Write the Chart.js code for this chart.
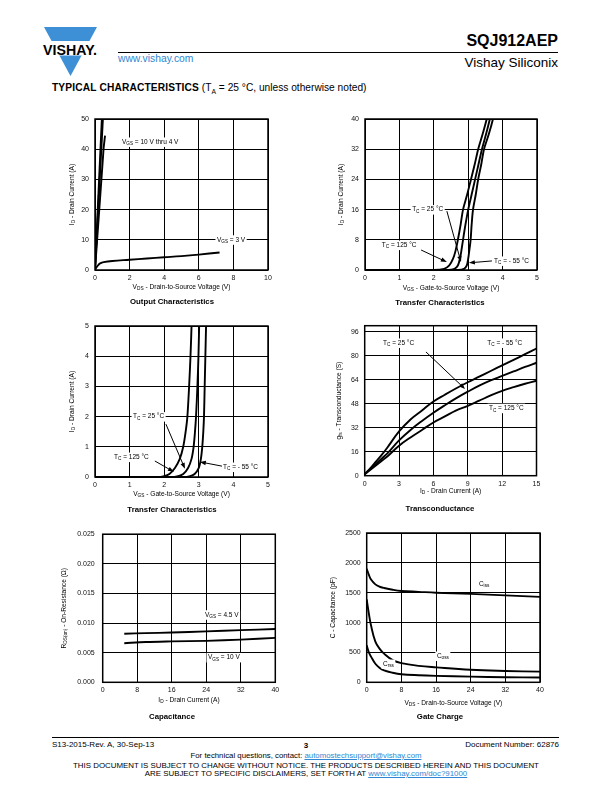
<!DOCTYPE html>
<html>
<head>
<meta charset="utf-8">
<script src="https://cdn.jsdelivr.net/npm/chart.js@4.4.0/dist/chart.umd.min.js"></script>
<style>
  body { margin: 0; width: 612px; height: 792px; position: relative; background: #fff; overflow: hidden;
         font-family: "Liberation Sans", Arial, sans-serif; color: #000; }
  .t { position: absolute; white-space: nowrap; line-height: 1; }
  .c { left: 0; width: 612px; text-align: center; }
  .blue { color: #2f86d2; }
  a { color: #2f86d2; }
  canvas { position: absolute; }
</style>
</head>
<body>
<svg style="position:absolute;left:0;top:0" width="120" height="80">
  <polygon points="44,27 97,27 70.5,76" fill="#3d8fd6"/>
  <rect x="40" y="41" width="60" height="14.5" fill="#fff"/>
  <text x="43" y="54.5" font-family="Liberation Sans, Arial" font-weight="bold" font-size="14" textLength="54" lengthAdjust="spacingAndGlyphs">VISHAY.</text>
</svg>
<div class="t" style="right:54px;top:33px;font-size:16px;font-weight:bold">SQJ912AEP</div>
<div style="position:absolute;left:118px;top:52px;width:440px;height:1px;background:#000"></div>
<div class="t blue" style="left:118px;top:54px;font-size:10.3px">www.vishay.com</div>
<div class="t" style="right:54px;top:56px;font-size:13.5px">Vishay Siliconix</div>
<div class="t" style="left:52px;top:83px;font-size:10.2px"><b style="letter-spacing:0.15px">TYPICAL CHARACTERISTICS</b> (T<sub style="font-size:6.8px">A</sub> = 25 °C, unless otherwise noted)</div>

<div style="position:absolute;left:52px;top:737px;width:507px;height:1px;background:#000"></div>
<div class="t" style="left:52px;top:740.5px;font-size:8px">S13-2015-Rev. A, 30-Sep-13</div>
<div class="t c" style="top:741.5px;font-size:8px;font-weight:bold">3</div>
<div class="t" style="right:53px;top:740.5px;font-size:8px">Document Number: 62876</div>
<div class="t c" style="top:752px;font-size:7.8px">For technical questions, contact: <a href="#">automostechsupport@vishay.com</a></div>
<div class="t c" style="top:761.5px;font-size:7.9px">THIS DOCUMENT IS SUBJECT TO CHANGE WITHOUT NOTICE. THE PRODUCTS DESCRIBED HEREIN AND THIS DOCUMENT</div>
<div class="t c" style="top:769.5px;font-size:7.9px">ARE SUBJECT TO SPECIFIC DISCLAIMERS, SET FORTH AT <a href="#">www.vishay.com/doc?91000</a></div>

<script>
// ---- output characteristics
const out10vX = [0, 0.40];
const out10vY = [0, 50.5];
const out6vX = [0, 0.46];
const out6vY = [0, 50.5];
const out4vX = [0, 0.5, 0.58];
const out4vY = [0, 40.5, 44.5];
const out3vX = [0, 0.1, 0.2, 0.3, 0.5, 1, 2, 3, 4, 5, 6, 7.2];
const out3vY = [0, 1.0, 1.7, 2.2, 2.6, 3.0, 3.4, 3.8, 4.2, 4.6, 5.1, 5.8];

// ---- transfer characteristics, 0 - 40 A
const trId = [0, 0, 0.3, 1.2, 3, 5, 8, 12, 16, 20, 24, 28, 32, 36, 40, 42];
const trVgs125 = [0, 2.0, 2.3, 2.45, 2.56, 2.63, 2.7, 2.78, 2.85, 2.97, 3.08, 3.19, 3.29, 3.42, 3.54, 3.6];
const trVgs25 = [0, 2.4, 2.6, 2.7, 2.76, 2.8, 2.85, 2.92, 3.0, 3.1, 3.2, 3.3, 3.4, 3.52, 3.63, 3.68];
const trVgsM55 = [0, 2.7, 2.88, 2.96, 3.0, 3.03, 3.07, 3.1, 3.14, 3.22, 3.29, 3.38, 3.46, 3.6, 3.72, 3.76];

// ---- transfer characteristics, 0 - 5 A
const lowId = [0, 0, 0.03, 0.1, 0.3, 0.6, 1, 1.5, 2, 3, 4, 5, 5.5];
const lowVgs125 = [0, 1.8, 2.0, 2.15, 2.31, 2.45, 2.55, 2.62, 2.67, 2.72, 2.76, 2.79, 2.80];
const lowVgs25 = [0, 2.2, 2.4, 2.55, 2.69, 2.79, 2.85, 2.89, 2.92, 2.96, 2.99, 3.01, 3.02];
const lowVgsM55 = [0, 2.55, 2.75, 2.88, 3.0, 3.06, 3.10, 3.13, 3.15, 3.17, 3.19, 3.21, 3.22];

// ---- transconductance
const gfsId = [0, 0.5, 1, 1.5, 2, 3, 4, 5, 6, 7, 8, 9, 10, 11, 12, 13, 14, 15];
const gfsM55 = [1, 5, 9.5, 14, 19, 29.5, 37.5, 43.5, 49.5, 54, 58.3, 62.3, 66, 69.8, 73.5, 77.2, 81, 84.8];
const gfs25 = [1, 4.5, 8, 11.5, 15, 23.5, 30.5, 36.5, 42, 47, 51.7, 56, 60, 63.5, 66.5, 69.5, 72.5, 75.3];
const gfs125 = [1, 4, 7, 10, 13, 20, 25.5, 30.5, 35.5, 39.5, 43.5, 46.5, 50, 53.5, 56.5, 59, 61.3, 63.3];

// ---- on-resistance
const rdsId = [5, 10, 16, 24, 32, 40];
const rds45 = [0.0082, 0.0083, 0.0084, 0.0086, 0.0088, 0.0090];
const rds10 = [0.0066, 0.0068, 0.0069, 0.0070, 0.0072, 0.0075];

// ---- capacitance
const capVds = [0, 0.5, 1, 2, 3, 4, 6, 8, 12, 16, 24, 32, 40];
const ciss = [1900, 1800, 1720, 1640, 1600, 1580, 1550, 1530, 1515, 1500, 1480, 1455, 1430];
const coss = [1390, 1150, 950, 680, 560, 480, 370, 320, 275, 250, 210, 190, 178];
const crss = [620, 500, 430, 310, 240, 200, 160, 135, 118, 108, 95, 85, 80];

const FONT = '"Liberation Sans", Arial, sans-serif';

// split "V_{GS} = 3 V" into [text, isSub] parts
const parse = (s) => s.split(/(_\{[^}]*\})/).filter(Boolean)
  .map((p) => (p.startsWith('_{') ? [p.slice(2, -1), true] : [p, false]));

function rich(ctx, str, x, y, size, align, bold) {
  const parts = parse(str);
  const f = (sub) => (bold ? 'bold ' : '') + (sub ? size * 0.72 : size) + 'px ' + FONT;
  let w = 0;
  parts.forEach(([t, sub]) => { ctx.font = f(sub); w += ctx.measureText(t).width; });
  let px = align === 'center' ? x - w / 2 : align === 'right' ? x - w : x;
  ctx.textAlign = 'left';
  ctx.textBaseline = 'middle';
  parts.forEach(([t, sub]) => {
    ctx.font = f(sub);
    ctx.fillText(t, px, y + (sub ? size * 0.32 : 0));
    px += ctx.measureText(t).width;
  });
  return w;
}

const deco = {
  id: 'deco',
  afterDraw(chart, args, o) {
    const { ctx, chartArea: a, scales: { x, y } } = chart;
    const g = o.box;
    ctx.save();
    ctx.fillStyle = '#000';
    ctx.strokeStyle = '#000';
    ctx.lineWidth = 1.5;
    ctx.strokeRect(a.left, a.top, a.right - a.left, a.bottom - a.top);

    // labels inside the plot
    (o.notes || []).forEach((n) => {
      const px = x.getPixelForValue(n.x), py = y.getPixelForValue(n.y);
      const w = rich(ctx, n.t, -999, -999, 6.5, 'left');
      ctx.fillStyle = '#fff';
      ctx.fillRect(px - 1.5, py - 4.5, w + 3, 9.5);
      ctx.fillStyle = '#000';
      rich(ctx, n.t, px, py, 6.5, 'left');
    });
    (o.arrows || []).forEach(([x1, y1, x2, y2]) => {
      const p1 = [x.getPixelForValue(x1), y.getPixelForValue(y1)];
      const p2 = [x.getPixelForValue(x2), y.getPixelForValue(y2)];
      const ang = Math.atan2(p2[1] - p1[1], p2[0] - p1[0]);
      ctx.lineWidth = 1;
      ctx.beginPath();
      ctx.moveTo(p1[0], p1[1]);
      ctx.lineTo(p2[0] - 4 * Math.cos(ang), p2[1] - 4 * Math.sin(ang));
      ctx.stroke();
      ctx.beginPath();
      ctx.moveTo(p2[0], p2[1]);
      ctx.lineTo(p2[0] - 6 * Math.cos(ang) + 2.2 * Math.sin(ang), p2[1] - 6 * Math.sin(ang) - 2.2 * Math.cos(ang));
      ctx.lineTo(p2[0] - 6 * Math.cos(ang) - 2.2 * Math.sin(ang), p2[1] - 6 * Math.sin(ang) + 2.2 * Math.cos(ang));
      ctx.closePath();
      ctx.fill();
    });

    // axis titles and caption
    rich(ctx, o.xTitle, (a.left + a.right) / 2, g.xt - g.cy, 6.6, 'center');
    ctx.save();
    ctx.translate(g.yt - g.cx, (a.top + a.bottom) / 2);
    ctx.rotate(-Math.PI / 2);
    rich(ctx, o.yTitle, 0, 0, 6.6, 'center');
    ctx.restore();
    rich(ctx, o.title, g.tx - g.cx, g.tt - g.cy, 7.8, 'center', true);
    ctx.restore();
  },
};

function makeChart(g, xr, yr, sets, extra) {
  const cv = document.createElement('canvas');
  cv.width = g.cw;
  cv.height = g.ch;
  cv.style.left = g.cx + 'px';
  cv.style.top = g.cy + 'px';
  document.body.appendChild(cv);
  const tickFont = { family: FONT, size: 7 };
  return new Chart(cv, {
    type: 'line',
    data: {
      datasets: sets.map((s) => ({
        data: s.xs.map((v, i) => ({ x: v, y: s.ys[i] })),
        borderColor: '#000',
        borderWidth: 1.9,
        pointRadius: 0,
        fill: false,
        tension: s.tension || 0,
      })),
    },
    options: {
      responsive: false,
      animation: false,
      events: [],
      layout: { padding: { left: 0, top: g.T - g.cy, right: g.cx + g.cw - g.R, bottom: g.cy + g.ch - g.B - 14 } },
      plugins: {
        legend: { display: false },
        tooltip: { enabled: false },
        deco: Object.assign({ box: g }, extra),
      },
      scales: {
        x: {
          type: 'linear', min: xr[0], max: xr[1],
          ticks: { stepSize: xr[2], font: tickFont, color: '#111', padding: 4, maxRotation: 0, autoSkip: false, includeBounds: false },
          grid: { color: '#000', lineWidth: 1, drawTicks: false },
          border: { display: false },
          afterFit: (s) => { s.height = 14; },
        },
        y: {
          type: 'linear', min: yr[0], max: yr[1],
          ticks: { stepSize: yr[2], font: tickFont, color: '#111', padding: g.tp || 6, autoSkip: false, includeBounds: false, callback: yr[3] },
          grid: { color: '#000', lineWidth: 1, drawTicks: false },
          border: { display: false },
          afterFit: (s) => { s.width = g.L - g.cx; },
        },
      },
    },
    plugins: [deco],
  });
}

// output characteristics
makeChart(
  { cx: 40, cy: 108, cw: 245, ch: 200, L: 95, T: 119, R: 268, B: 270, yt: 72, xt: 287, tt: 302, tx: 172 },
  [0, 10, 2], [0, 50, 10],
  [
    { xs: out10vX, ys: out10vY },
    { xs: out6vX, ys: out6vY },
    { xs: out4vX, ys: out4vY },
    { xs: out3vX, ys: out3vY, tension: 0.4 },
  ],
  {
    xTitle: 'V_{DS} - Drain-to-Source Voltage (V)', yTitle: 'I_{D} - Drain Current (A)', title: 'Output Characteristics',
    notes: [{ t: 'V_{GS} = 10 V thru 4 V', x: 1.56, y: 42.4 }, { t: 'V_{GS} = 3 V', x: 7.05, y: 10 }],
  }
);

// transfer characteristics 0 - 40 A
makeChart(
  { cx: 305, cy: 108, cw: 245, ch: 200, L: 365, T: 119, R: 537, B: 270, yt: 341, xt: 288, tt: 303, tx: 440 },
  [0, 5, 1], [0, 40, 8],
  [
    { xs: trVgs125, ys: trId, tension: 0.3 },
    { xs: trVgs25, ys: trId, tension: 0.3 },
    { xs: trVgsM55, ys: trId, tension: 0.3 },
  ],
  {
    xTitle: 'V_{GS} - Gate-to-Source Voltage (V)', yTitle: 'I_{D} - Drain Current (A)', title: 'Transfer Characteristics',
    notes: [{ t: 'T_{C} = 25 °C', x: 1.37, y: 16 }, { t: 'T_{C} = 125 °C', x: 0.49, y: 6.6 }, { t: 'T_{C} = - 55 °C', x: 3.75, y: 2.4 }],
    arrows: [[2.38, 15.6, 2.79, 2.1], [1.63, 5.3, 2.38, 2.1], [3.69, 2.4, 3.02, 1.9]],
  }
);

// transfer characteristics 0 - 5 A
makeChart(
  { cx: 40, cy: 315, cw: 245, ch: 205, L: 95, T: 326, R: 268, B: 477, yt: 72, xt: 494, tt: 510, tx: 172 },
  [0, 5, 1], [0, 5, 1],
  [
    { xs: lowVgs125, ys: lowId, tension: 0.3 },
    { xs: lowVgs25, ys: lowId, tension: 0.3 },
    { xs: lowVgsM55, ys: lowId, tension: 0.3 },
  ],
  {
    xTitle: 'V_{GS} - Gate-to-Source Voltage (V)', yTitle: 'I_{D} - Drain Current (A)', title: 'Transfer Characteristics',
    notes: [{ t: 'T_{C} = 25 °C', x: 1.1, y: 2 }, { t: 'T_{C} = 125 °C', x: 0.55, y: 0.66 }, { t: 'T_{C} = - 55 °C', x: 3.7, y: 0.33 }],
    arrows: [[2.05, 1.75, 2.6, 0.27], [1.73, 0.53, 2.28, 0.17], [3.67, 0.36, 3.03, 0.5]],
  }
);

// transconductance
makeChart(
  { cx: 305, cy: 315, cw: 245, ch: 205, L: 364.7, T: 325.7, R: 536.5, B: 475.7, yt: 339, xt: 491, tt: 509, tx: 440 },
  [0, 15, 3], [0, 100, 16],
  [
    { xs: gfsId, ys: gfsM55, tension: 0.4 },
    { xs: gfsId, ys: gfs25, tension: 0.4 },
    { xs: gfsId, ys: gfs125, tension: 0.4 },
  ],
  {
    xTitle: 'I_{D} - Drain Current (A)', yTitle: 'g_{fs} - Transconductance (S)', title: 'Transconductance',
    notes: [{ t: 'T_{C} = 25 °C', x: 1.6, y: 88.5 }, { t: 'T_{C} = - 55 °C', x: 10.7, y: 88.5 }, { t: 'T_{C} = 125 °C', x: 10.85, y: 45 }],
    arrows: [[5.35, 82.5, 8.76, 57.8]],
  }
);

// on-resistance
makeChart(
  { cx: 40, cy: 522, cw: 245, ch: 205, L: 102.7, T: 532.7, R: 275.3, B: 682.3, yt: 64, xt: 700, tt: 717, tx: 172, tp: 8 },
  [0, 40, 8], [0, 0.025, 0.005, (v) => v.toFixed(3)],
  [
    { xs: rdsId, ys: rds45, tension: 0.3 },
    { xs: rdsId, ys: rds10, tension: 0.3 },
  ],
  {
    xTitle: 'I_{D} - Drain Current (A)', yTitle: 'R_{DS(on)} - On-Resistance (Ω)', title: 'Capacitance',
    notes: [{ t: 'V_{GS} = 4.5 V', x: 23.7, y: 0.0114 }, { t: 'V_{GS} = 10 V', x: 24.4, y: 0.0042 }],
  }
);

// capacitance
makeChart(
  { cx: 305, cy: 522, cw: 245, ch: 205, L: 366.7, T: 533, R: 540, B: 682.3, yt: 333, xt: 703, tt: 717, tx: 440 },
  [0, 40, 8], [0, 2500, 500],
  [
    { xs: capVds, ys: ciss, tension: 0.4 },
    { xs: capVds, ys: coss, tension: 0.4 },
    { xs: capVds, ys: crss, tension: 0.4 },
  ],
  {
    xTitle: 'V_{DS} - Drain-to-Source Voltage (V)', yTitle: 'C - Capacitance (pF)', title: 'Gate Charge',
    notes: [{ t: 'C_{iss}', x: 25.9, y: 1646 }, { t: 'C_{oss}', x: 16.2, y: 440 }, { t: 'C_{rss}', x: 3.75, y: 306 }],
  }
);
</script>
</body>
</html>
